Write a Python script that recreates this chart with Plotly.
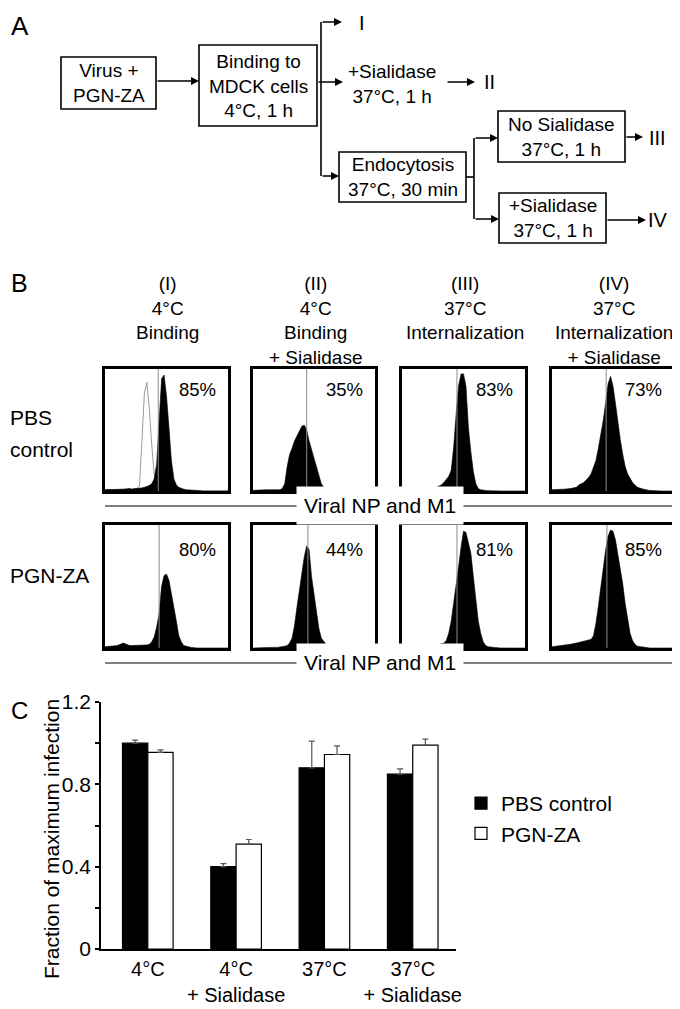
import plotly.graph_objects as go

# the page puts the figure 8 px in from the top-left corner of the window
PAGE_OFFSET = 8
W, H = 680 - PAGE_OFFSET, 1009 - PAGE_OFFSET
FONT = "Liberation Sans, Arial, Helvetica, sans-serif"

# ---------------- panel B data: flow histograms ----------------
# channel position across the frame (0..1) and event count as a fraction of frame height
CHANNEL = [0, 0.05, 0.1, 0.15, 0.2, 0.22, 0.24, 0.26, 0.28, 0.30, 0.32, 0.34, 0.36, 0.38,
           0.40, 0.42, 0.44, 0.46, 0.48, 0.50, 0.52, 0.54, 0.56, 0.58, 0.60, 0.62, 0.64,
           0.66, 0.68, 0.70, 0.75, 0.8, 0.9, 1.0]

PBS_I_UNSTAINED = [0.01, 0.01, 0.01, 0.01, 0.01, 0.01, 0.015, 0.02, 0.04, 0.40, 0.80, 0.89,
                   0.68, 0.38, 0.14, 0.05, 0.02, 0.01, 0.01, 0.005, 0, 0, 0, 0, 0, 0, 0,
                   0, 0, 0, 0, 0, 0, 0]
PBS_I = [0.01, 0.01, 0.015, 0.015, 0.02, 0.015, 0.02, 0.02, 0.02, 0.025, 0.03, 0.035, 0.045,
         0.06, 0.10, 0.22, 0.60, 0.92, 0.95, 0.78, 0.52, 0.25, 0.10, 0.05, 0.03, 0.02, 0.015,
         0.01, 0.01, 0.005, 0.005, 0, 0, 0]
PBS_II = [0.005, 0.01, 0.01, 0.01, 0.01, 0.01, 0.02, 0.06, 0.20, 0.30, 0.35, 0.41, 0.45,
          0.49, 0.53, 0.54, 0.50, 0.41, 0.34, 0.26, 0.18, 0.11, 0.06, 0.03, 0.015, 0.01, 0.01,
          0.005, 0.005, 0.003, 0.002, 0, 0, 0]
PBS_III = [0.005, 0.005, 0.005, 0.01, 0.01, 0.015, 0.02, 0.02, 0.03, 0.04, 0.05, 0.07, 0.10,
           0.12, 0.17, 0.36, 0.63, 0.86, 0.96, 0.96, 0.86, 0.52, 0.32, 0.16, 0.06, 0.02, 0.01,
           0.005, 0.005, 0.003, 0, 0, 0, 0]
PBS_IV = [0.01, 0.01, 0.015, 0.02, 0.03, 0.05, 0.06, 0.07, 0.09, 0.11, 0.14, 0.19, 0.25,
          0.35, 0.45, 0.58, 0.72, 0.88, 0.94, 0.86, 0.72, 0.55, 0.42, 0.30, 0.20, 0.14, 0.10,
          0.07, 0.05, 0.03, 0.015, 0.005, 0, 0]
PGN_I = [0.01, 0.015, 0.02, 0.04, 0.02, 0.02, 0.02, 0.02, 0.02, 0.02, 0.02, 0.025, 0.03,
         0.05, 0.09, 0.17, 0.28, 0.50, 0.59, 0.60, 0.55, 0.45, 0.33, 0.22, 0.10, 0.05, 0.02,
         0.015, 0.01, 0.005, 0, 0, 0, 0]
PGN_II = [0, 0.003, 0.005, 0.005, 0.005, 0.007, 0.01, 0.015, 0.02, 0.04, 0.08, 0.18, 0.33,
          0.48, 0.63, 0.74, 0.83, 0.80, 0.58, 0.45, 0.30, 0.16, 0.08, 0.05, 0.03, 0.02, 0.01,
          0.01, 0.005, 0.003, 0, 0, 0, 0]
PGN_III = [0.005, 0.005, 0.01, 0.01, 0.015, 0.015, 0.02, 0.02, 0.025, 0.03, 0.03, 0.04, 0.06,
           0.12, 0.22, 0.36, 0.49, 0.66, 0.82, 0.95, 0.94, 0.86, 0.77, 0.58, 0.40, 0.22, 0.12,
           0.05, 0.02, 0.01, 0.005, 0, 0, 0]
PGN_IV = [0.01, 0.015, 0.02, 0.03, 0.04, 0.045, 0.05, 0.05, 0.055, 0.06, 0.07, 0.10, 0.20,
          0.34, 0.50, 0.65, 0.80, 0.91, 0.96, 0.95, 0.88, 0.76, 0.64, 0.52, 0.36, 0.24, 0.12,
          0.06, 0.03, 0.015, 0.005, 0, 0, 0]

GATE_PBS = [0.433, 0.44, 0.447, 0.444]
GATE_PGN = [0.44, 0.45, 0.447, 0.45]
PCT_PBS = ["85%", "35%", "83%", "73%"]
PCT_PGN = ["80%", "44%", "81%", "85%"]
COLUMN_TITLES = [
    "(I)<br>4°C<br>Binding",
    "(II)<br>4°C<br>Binding<br>+ Sialidase",
    "(III)<br>37°C<br>Internalization",
    "(IV)<br>37°C<br>Internalization<br>+ Sialidase",
]
ROW_LABELS = [["PBS", "control"], ["PGN-ZA"]]

# ---------------- panel C data ----------------
CONDITIONS = ["4°C", "4°C<br>+ Sialidase", "37°C", "37°C<br>+ Sialidase"]
PBS_MEAN = [1.0, 0.40, 0.88, 0.85]
PBS_ERR = [0.015, 0.015, 0.13, 0.025]
PGN_MEAN = [0.955, 0.51, 0.945, 0.99]
PGN_ERR = [0.012, 0.022, 0.042, 0.03]
Y_TICKS = [0, 0.2, 0.4, 0.6, 0.8, 1.0, 1.2]
Y_TICKTEXT = ["0", "", "0.4", "", "0.8", "", "1.2"]

# ---------------- layout geometry (window pixels) ----------------
COL_X = [(105, 228), (253, 375), (402, 525), (552, 674)]
ROW_Y = [(369, 491), (525, 648)]


def px(x):
    return (x - PAGE_OFFSET) / W


def py(y):
    return 1 - (y - PAGE_OFFSET) / H


def label(text, x, y, size=21, xanchor="center", yanchor="middle", **kw):
    return dict(text=text, x=px(x), y=py(y), xref="paper", yref="paper", showarrow=False,
                xanchor=xanchor, yanchor=yanchor,
                font=dict(size=size, color="black", family=FONT), **kw)


def arrow(x0, x1, y):
    return dict(text="", x=px(x1), y=py(y), xref="paper", yref="paper", showarrow=True,
                ax=-(x1 - x0), ay=0, axref="pixel", ayref="pixel", arrowhead=2, arrowsize=1,
                arrowwidth=1.6, arrowcolor="black", standoff=0)


def seg(x0, y0, x1, y1, width=1.6):
    return dict(type="line", xref="paper", yref="paper", x0=px(x0), y0=py(y0), x1=px(x1),
                y1=py(y1), line=dict(color="black", width=width))


def box(x0, y0, x1, y1):
    return dict(type="rect", xref="paper", yref="paper", x0=px(x0), y0=py(y1), x1=px(x1),
                y1=py(y0), line=dict(color="black", width=1.6), fillcolor="white", layer="below")


fig = go.Figure()
annotations = []
shapes = []

# ---------------- panel A: flow chart ----------------
shapes += [
    box(61, 57, 156, 109),
    box(199, 45, 317, 126),
    box(339, 152, 466, 202),
    box(498, 111, 625, 162),
    box(499, 193, 606, 243),
    seg(321, 22, 321, 176),
    seg(466, 177, 474, 177),
    seg(474, 138, 474, 219),
]
annotations += [
    arrow(156, 199, 81),
    arrow(321, 342, 22),
    arrow(317, 343, 82),
    arrow(321, 339, 176),
    arrow(446, 475, 82),
    arrow(474, 498, 138),
    arrow(474, 499, 219),
    arrow(625, 643, 137),
    arrow(606, 646, 220),
]
for text, x, y in [
    ("Virus +<br>PGN-ZA", 108.5, 83),
    ("Binding to<br>MDCK cells<br>4°C, 1 h", 258, 86),
    ("+Sialidase<br>37°C, 1 h", 392, 84),
    ("Endocytosis<br>37°C, 30 min", 402.5, 177),
    ("No Sialidase<br>37°C, 1 h", 561.5, 136.5),
    ("+Sialidase<br>37°C, 1 h", 552.5, 218),
]:
    annotations.append(label(text, x, y, size=19))
for text, x, y in [("I", 357, 22.5), ("II", 482, 82.5), ("III", 647, 138), ("IV", 646, 220)]:
    annotations.append(label(text, x, y, size=20, xanchor="left"))

annotations += [
    label("A", 9, 26, size=26, xanchor="left"),
    label("B", 9, 283, size=25, xanchor="left"),
    label("C", 9, 710, size=24, xanchor="left"),
]

# ---------------- panel B: histograms ----------------
hists = [PBS_I, PBS_II, PBS_III, PBS_IV, PGN_I, PGN_II, PGN_III, PGN_IV]
gates = GATE_PBS + GATE_PGN
pcts = PCT_PBS + PCT_PGN
frame = dict(showline=True, mirror=True, linecolor="black", linewidth=2.6, showgrid=False,
             zeroline=False, showticklabels=False, ticks="", fixedrange=True, automargin=False)
for i, counts in enumerate(hists):
    n = i + 1
    r, c = divmod(i, 4)
    xa = "x" if n == 1 else f"x{n}"
    ya = "y" if n == 1 else f"y{n}"
    if i == 0:
        fig.add_trace(go.Scatter(x=CHANNEL, y=PBS_I_UNSTAINED, mode="lines",
                                 line=dict(color="#9b9b9b", width=1), xaxis=xa, yaxis=ya,
                                 showlegend=False, hoverinfo="skip"))
    fig.add_trace(go.Scatter(x=CHANNEL, y=counts, mode="lines", fill="tozeroy", fillcolor="black",
                             line=dict(color="black", width=0.6), xaxis=xa, yaxis=ya,
                             showlegend=False, hoverinfo="skip"))
    x0, x1 = COL_X[c]
    y0, y1 = ROW_Y[r]
    suffix = "" if n == 1 else str(n)
    fig.update_layout({
        f"xaxis{suffix}": dict(domain=[px(x0), px(x1)], range=[0, 1], anchor=ya, **frame),
        f"yaxis{suffix}": dict(domain=[py(y1), py(y0)], range=[0, 1], anchor=xa, **frame),
    })
    shapes.append(dict(type="line", xref=xa, yref=f"{ya} domain", x0=gates[i], x1=gates[i],
                       y0=0, y1=1, line=dict(color="#8c8c8c", width=1)))
    annotations.append(label(pcts[i], x1 - 10, 390 if r == 0 else 549.5, size=18.5,
                             xanchor="right"))

for c, title in enumerate(COLUMN_TITLES):
    cx = (COL_X[c][0] + COL_X[c][1]) / 2 + 1
    annotations.append(label(title, cx, 271, size=19, yanchor="top"))

annotations += [
    label(ROW_LABELS[0][0], 8, 417.5, xanchor="left"),
    label(ROW_LABELS[0][1], 8, 449.5, xanchor="left"),
    label(ROW_LABELS[1][0], 8, 575.5, xanchor="left"),
]
for yline in (506, 663):
    shapes.append(seg(105, yline, 673, yline, width=1))
    annotations.append(label("Viral NP and M1", 380, yline - 0.5, bgcolor="white", borderpad=7))

# ---------------- panel C: bar chart ----------------
fig.add_trace(go.Bar(
    x=CONDITIONS, y=PBS_MEAN, name="PBS control", xaxis="x9", yaxis="y9", legendgroup="pbs",
    marker=dict(color="black", line=dict(color="black", width=1.2)),
    error_y=dict(type="data", array=PBS_ERR, arrayminus=[0] * len(PBS_ERR), symmetric=False,
                 color="#555555", thickness=1.2, width=3),
))
fig.add_trace(go.Bar(
    x=CONDITIONS, y=PGN_MEAN, name="PGN-ZA", xaxis="x9", yaxis="y9", legendgroup="pgn",
    marker=dict(color="white", line=dict(color="black", width=1.2)),
    error_y=dict(type="data", array=PGN_ERR, arrayminus=[0] * len(PGN_ERR), symmetric=False,
                 color="#555555", thickness=1.2, width=3),
))
annotations.append(label("Fraction of maximum infection", 51, 839, textangle=-90))

fig.update_layout(
    xaxis9=dict(domain=[px(101), px(456)], anchor="y9", type="category", range=[-0.53, 3.49],
                showline=True, linecolor="black", linewidth=1.5, ticks="", showgrid=False,
                zeroline=False, tickfont=dict(size=20, color="black", family=FONT),
                ticklabelstandoff=1, fixedrange=True, automargin=False),
    yaxis9=dict(domain=[py(949), py(702)], anchor="x9", range=[0, 1.2], tickvals=Y_TICKS,
                ticktext=Y_TICKTEXT, ticks="outside", ticklen=4, tickwidth=1.5, tickcolor="black",
                showline=True, linecolor="black", linewidth=1.5, showgrid=False, zeroline=False,
                tickfont=dict(size=21, color="black", family=FONT), fixedrange=True,
                automargin=False),
    barmode="group",
    bargap=0.427,
    bargroupgap=0,
    legend=dict(x=px(461), y=py(783), xanchor="left", yanchor="top", bgcolor="rgba(0,0,0,0)",
                font=dict(size=21, color="black", family=FONT), tracegroupgap=0),
    width=W,
    height=H,
    margin=dict(l=0, r=0, t=0, b=0, autoexpand=False),
    paper_bgcolor="white",
    plot_bgcolor="white",
    font=dict(family=FONT, color="black"),
    shapes=shapes,
    annotations=annotations,
)

fig.write_html("out.html")
